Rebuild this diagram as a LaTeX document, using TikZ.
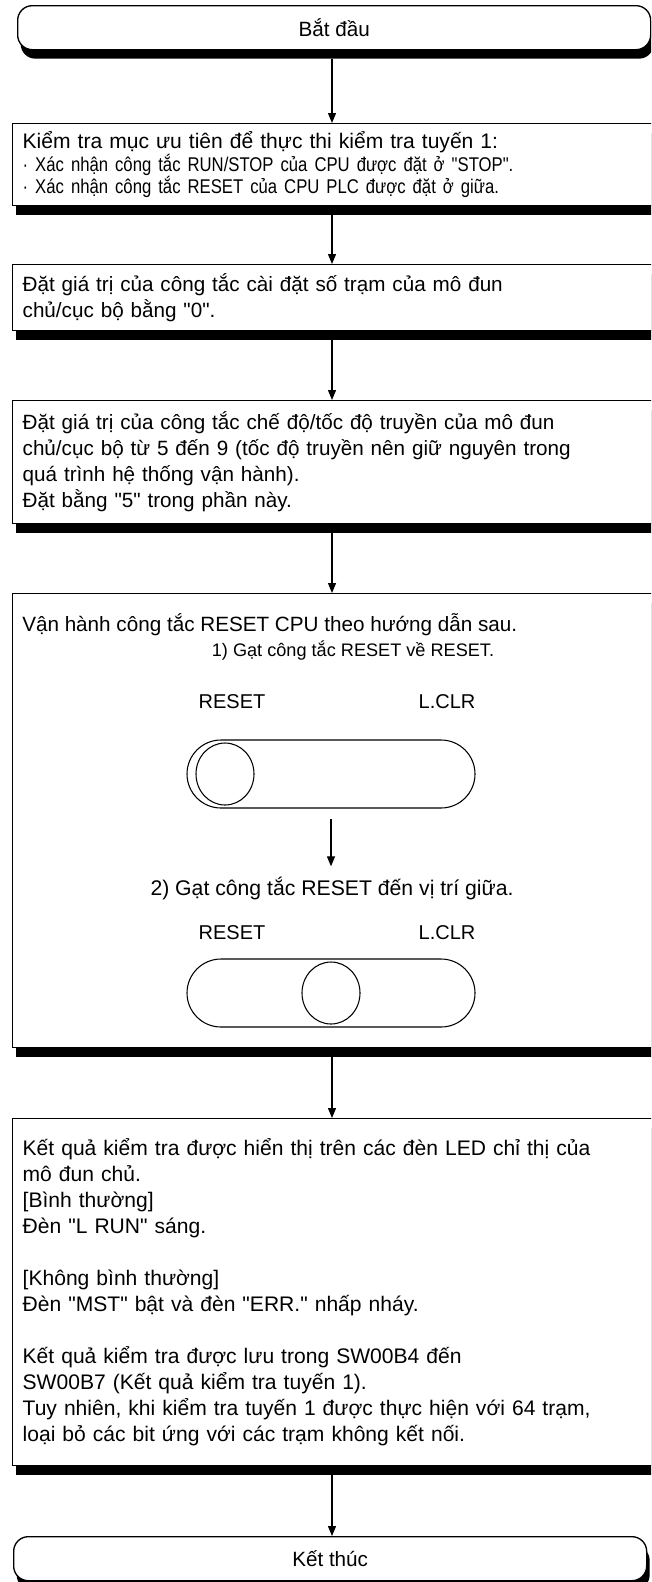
\documentclass[tikz,border=0pt]{standalone}
\usepackage{fontspec}
\setmainfont{Liberation Sans}[Ligatures=TeXOff]
\newfontfamily\narrowfont{Liberation Sans}[FakeStretch=0.84,Ligatures=TeXOff]
\usetikzlibrary{arrows.meta,shadows,shapes.geometric}
\begin{document}
\begin{tikzpicture}[x=0.75pt,y=-0.75pt,
  every node/.style={font=\fontsize{15.5}{19.5}\selectfont},
  shade/.style={drop shadow={shadow xshift=2.25pt,shadow yshift=-6.75pt,fill=black,opacity=1}},
  box/.style={draw,line width=1pt,fill=white,anchor=north west,text width=480pt,
    inner xsep=7.5pt,inner ysep=0pt,align=left,shade},
  term/.style={draw,line width=1pt,fill=white,rounded corners=11pt,anchor=north west,
    minimum width=474.75pt,minimum height=33pt,inner sep=0pt,shade},
  arr/.style={line width=0.9pt,-{Triangle[length=7.5pt,width=6pt]}},
  txt/.style={inner sep=0pt},
  lbl/.style={inner sep=0pt,font=\fontsize{15}{18}\selectfont},
  stadium/.style={draw,line width=0.8pt,minimum width=216pt,minimum height=51pt,
    rounded corners=25.5pt,inner sep=0pt},
  knob/.style={draw,line width=0.8pt,ellipse,minimum width=43.5pt,minimum height=46.5pt,inner sep=0pt}
]
\useasboundingbox (0,0) rectangle (651,1582);
\clip (0,0) rectangle (651,1582);
\coordinate (ax) at (332,0);

% terminals
\node[term] (st) at (17,5) {Bắt đầu};
\node[term] (en) at (13,1536) {Kết thúc};

% boxes
\node[box,minimum height=61.5pt,font=\fontsize{15.8}{15.8}\selectfont] (b1) at (12,123)
  {Kiểm tra mục ưu tiên để thực thi kiểm tra tuyến 1:\\
   {\narrowfont\fontsize{14.9}{15.8}\selectfont · Xác nhận công tắc RUN/STOP của CPU được đặt ở "STOP".}\\
   {\narrowfont\fontsize{14.9}{15.8}\selectfont · Xác nhận công tắc RESET của CPU PLC được đặt ở giữa.}};
\node[box,minimum height=49.5pt] (b2) at (12,264)
  {Đặt giá trị của công tắc cài đặt số trạm của mô đun\\
   chủ/cục bộ bằng "0".};
\node[box,minimum height=92.25pt] (b3) at (12,400)
  {Đặt giá trị của công tắc chế độ/tốc độ truyền của mô đun\\
   chủ/cục bộ từ 5 đến 9 (tốc độ truyền nên giữ nguyên trong\\
   quá trình hệ thống vận hành).\\
   Đặt bằng "5" trong phần này.};
\node[box,minimum height=340.5pt] (b4) at (12,593) {};
\node[box,minimum height=260.25pt,font=\fontsize{15.8}{19.5}\selectfont] (b5) at (12,1118)
  {Kết quả kiểm tra được hiển thị trên các đèn LED chỉ thị của\\
   mô đun chủ.\\
   {[}Bình thường]\\
   Đèn "L RUN" sáng.\\
   \mbox{}\\
   {[}Không bình thường]\\
   Đèn "MST" bật và đèn "ERR." nhấp nháy.\\
   \mbox{}\\
   Kết quả kiểm tra được lưu trong SW00B4 đến\\
   SW00B7 (Kết quả kiểm tra tuyến 1).\\
   Tuy nhiên, khi kiểm tra tuyến 1 được thực hiện với 64 trạm,\\
   loại bỏ các bit ứng với các trạm không kết nối.};

% contents of box 4
\node[txt,anchor=west] (t41) at (22,625) {Vận hành công tắc RESET CPU theo hướng dẫn sau.};
\node[txt,font=\fontsize{13.6}{16}\selectfont] (t42) at (353,651) {1) Gạt công tắc RESET về RESET.};
\node[lbl] (r1) at (232,702) {RESET};
\node[lbl] (l1) at (447,702) {L.CLR};
\node[stadium] (sw1) at (331,774) {};
\node[knob] (k1) at (225,774) {};
\node[txt,font=\fontsize{15.9}{19}\selectfont] (t43) at (332,888) {2) Gạt công tắc RESET đến vị trí giữa.};
\node[lbl] (r2) at (232,933) {RESET};
\node[lbl] (l2) at (447,933) {L.CLR};
\node[stadium] (sw2) at (331,993) {};
\node[knob] (k2) at (331,993) {};

% connectors
\draw[arr,shorten <=6.75pt] (st.south -| ax) -- (b1.north -| ax);
\draw[arr,shorten <=6.75pt] (b1.south -| ax) -- (b2.north -| ax);
\draw[arr,shorten <=6.75pt] (b2.south -| ax) -- (b3.north -| ax);
\draw[arr,shorten <=6.75pt] (b3.south -| ax) -- (b4.north -| ax);
\draw[arr,shorten <=6.75pt] (b4.south -| ax) -- (b5.north -| ax);
\draw[arr,shorten <=6.75pt] (b5.south -| ax) -- (en.north -| ax);
\draw[arr,shorten <=8pt,shorten >=7.5pt] (sw1.south) -- (sw1.south |- t43.north);
\end{tikzpicture}
\end{document}
